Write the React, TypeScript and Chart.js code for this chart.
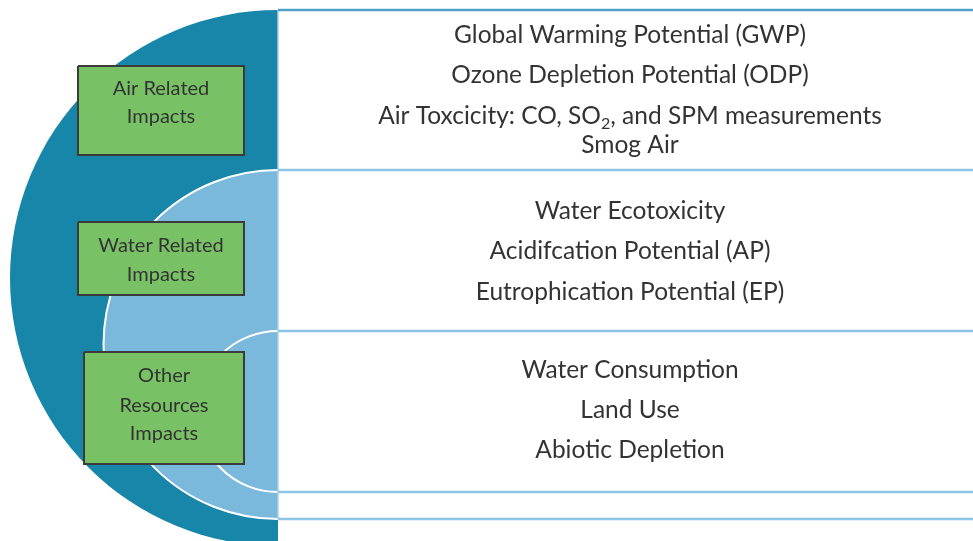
import React, { useEffect, useRef } from 'react';
import { Chart, registerables } from 'chart.js';

Chart.register(...registerables);

const W = 973;
const H = 541;

// Concentric circles (x, y of centre, radius in px units of the 973x541 frame)
const circleX = [278, 278, 278];
const circleY = [278, 344.5, 411.5];
const circleR = [268, 174.5, 80.5];
const circleFill = ['#1786a8', '#7bb9dc', 'rgba(0,0,0,0)'];
const circleBorder = ['rgba(0,0,0,0)', '#ffffff', '#ffffff'];

// Right-hand panels
const panelLeft = 278;
const panelRight = 973;
const dividerY = [10, 170, 331, 492, 519];
const dividerColor = ['#4f9fc6', '#8cc5e5', '#8cc5e5', '#8cc5e5', '#8cc5e5'];

// Green category boxes
const boxX0 = [78, 78, 84];
const boxX1 = [244, 244, 244];
const boxY0 = [66, 222, 352];
const boxY1 = [155, 295, 464];
const boxLabels = [
  ['Air Related', 'Impacts'],
  ['Water Related', 'Impacts'],
  ['Other', 'Resources', 'Impacts'],
];
const boxBaselines = [
  [95, 123],
  [252, 281],
  [382, 412, 440],
];

// Impact indicators per panel (_{..} marks subscript)
const panelItems = [
  ['Global Warming Potential (GWP)', 'Ozone Depletion Potential (ODP)', 'Air Toxcicity: CO, SO_{2}, and SPM measurements', 'Smog Air'],
  ['Water Ecotoxicity', 'Acidifcation Potential (AP)', 'Eutrophication Potential (EP)'],
  ['Water Consumption', 'Land Use', 'Abiotic Depletion'],
];
const panelBaselines = [
  [43, 83, 124, 153],
  [219, 259, 300],
  [378, 418, 458],
];
const panelTextX = 630;

const FONT = 'Lato, "Open Sans", sans-serif';
const PANEL_SIZE = 24.5;
const BOX_SIZE = 20;
const TEXT_COLOR = '#333333';

function drawRich(ctx: CanvasRenderingContext2D, text: string, cx: number, y: number, size: number) {
  const parts: { t: string; sub: boolean }[] = [];
  const re = /_\{([^}]*)\}/g;
  let last = 0;
  let m: RegExpExecArray | null;
  while ((m = re.exec(text))) {
    if (m.index > last) parts.push({ t: text.slice(last, m.index), sub: false });
    parts.push({ t: m[1], sub: true });
    last = m.index + m[0].length;
  }
  if (last < text.length) parts.push({ t: text.slice(last), sub: false });
  const subSize = Math.round(size * 0.65);
  let total = 0;
  const widths = parts.map((p) => {
    ctx.font = `${p.sub ? subSize : size}px ${FONT}`;
    const w = ctx.measureText(p.t).width;
    total += w;
    return w;
  });
  let x = cx - total / 2;
  parts.forEach((p, i) => {
    ctx.font = `${p.sub ? subSize : size}px ${FONT}`;
    ctx.fillText(p.t, x, p.sub ? y + size * 0.2 : y);
    x += widths[i];
  });
}

const textPlugin = {
  id: 'diagramText',
  afterDatasetsDraw(chart: any) {
    const { ctx, scales } = chart;
    const sx = scales.x;
    const sy = scales.y;
    ctx.save();
    ctx.fillStyle = TEXT_COLOR;
    ctx.textAlign = 'left';
    ctx.textBaseline = 'alphabetic';
    panelItems.forEach((items, pi) => {
      items.forEach((t, i) => {
        drawRich(ctx, t, sx.getPixelForValue(panelTextX), sy.getPixelForValue(panelBaselines[pi][i]), PANEL_SIZE);
      });
    });
    boxLabels.forEach((lines, bi) => {
      const cx = sx.getPixelForValue((boxX0[bi] + boxX1[bi]) / 2);
      lines.forEach((t, i) => {
        drawRich(ctx, t, cx, sy.getPixelForValue(boxBaselines[bi][i]), BOX_SIZE);
      });
    });
    ctx.restore();
  },
};

export default function App() {
  const ref = useRef<HTMLCanvasElement | null>(null);
  useEffect(() => {
    if (!ref.current) return;
    const datasets: any[] = [];
    let order = 200;
    // circles
    circleX.forEach((x, i) => {
      datasets.push({
        type: 'bubble',
        data: [{ x, y: circleY[i], r: circleR[i] }],
        backgroundColor: circleFill[i],
        borderColor: circleBorder[i],
        borderWidth: i === 0 ? 0 : 2,
        hoverBorderWidth: i === 0 ? 0 : 2,
        order: order--,
        clip: false,
      });
    });
    // white panel area
    datasets.push({
      type: 'line',
      data: [{ x: panelLeft, y: 0 }, { x: panelRight, y: 0 }],
      fill: { value: H },
      backgroundColor: '#ffffff',
      borderWidth: 0,
      pointRadius: 0,
      order: order--,
    });
    // vertical panel edge
    datasets.push({
      type: 'line',
      data: [{ x: panelLeft, y: dividerY[0] }, { x: panelLeft, y: dividerY[dividerY.length - 1] }],
      borderColor: '#a9d2ea',
      borderWidth: 1.5,
      pointRadius: 0,
      fill: false,
      order: order--,
    });
    // dividers
    dividerY.forEach((y, i) => {
      datasets.push({
        type: 'line',
        data: [{ x: panelLeft, y }, { x: panelRight, y }],
        borderColor: dividerColor[i],
        borderWidth: 2.5,
        pointRadius: 0,
        fill: false,
        order: order--,
      });
    });
    // green boxes
    boxX0.forEach((x0, i) => {
      datasets.push({
        type: 'line',
        data: [{ x: x0, y: boxY0[i] }, { x: boxX1[i], y: boxY0[i] }],
        fill: { value: boxY1[i] },
        backgroundColor: '#78c265',
        borderWidth: 0,
        pointRadius: 0,
        order: order--,
      });
      datasets.push({
        type: 'line',
        data: [
          { x: x0, y: boxY0[i] },
          { x: boxX1[i], y: boxY0[i] },
          { x: boxX1[i], y: boxY1[i] },
          { x: x0, y: boxY1[i] },
          { x: x0, y: boxY0[i] },
        ],
        borderColor: '#3b3b3b',
        borderWidth: 2,
        pointRadius: 0,
        fill: false,
        tension: 0,
        order: order--,
      });
    });

    const chart = new Chart(ref.current, {
      type: 'scatter',
      data: { datasets },
      options: {
        animation: false,
        responsive: false,
        devicePixelRatio: 1,
        layout: { padding: 0, autoPadding: false },
        events: [],
        scales: {
          x: { type: 'linear', min: 0, max: W, display: false },
          y: { type: 'linear', min: 0, max: H, reverse: true, display: false },
        },
        plugins: { legend: { display: false }, tooltip: { enabled: false } },
      },
      plugins: [textPlugin],
    } as any);
    return () => chart.destroy();
  }, []);
  return (
    <div style={{ position: 'fixed', left: 0, top: 0, width: W, height: H, background: '#fff' }}>
      <canvas ref={ref} width={W} height={H} style={{ width: W, height: H, display: 'block' }} />
    </div>
  );
}
